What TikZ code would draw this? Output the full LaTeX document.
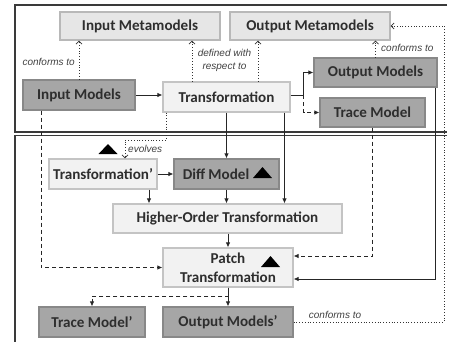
\documentclass[tikz,border=0pt]{standalone}
\usepackage{fontspec}
\setmainfont{Carlito}
\newfontfamily\lblfont{Liberation Sans}
\usetikzlibrary{arrows.meta,calc}
\definecolor{darkbox}{HTML}{A6A6A6}
\definecolor{darkedge}{HTML}{888888}
\definecolor{lightbox}{HTML}{F2F2F2}
\definecolor{lightedge}{HTML}{C4C4C4}
\definecolor{metabox}{HTML}{E6E6E6}
\definecolor{metaedge}{HTML}{B8B8B8}
\definecolor{txt}{HTML}{2E2E2E}
\definecolor{lbl}{HTML}{404040}
\definecolor{frame}{HTML}{3A3A3A}
\tikzset{
  box/.style={draw, line width=1.2pt, inner sep=0pt, text=txt,
    font=\fontsize{15.1}{19}\selectfont\bfseries, align=center},
  darkn/.style={box, fill=darkbox, draw=darkedge},
  lightn/.style={box, fill=lightbox, draw=lightedge},
  metan/.style={box, fill=metabox, draw=metaedge},
  solidarrow/.style={draw=black!85, line width=0.8pt, -{Latex[length=5pt,width=4.5pt]}},
  dasharrow/.style={solidarrow, dash pattern=on 4pt off 3pt},
  dotarrow/.style={draw=black!80, line width=0.8pt, dotted, -{Straight Barb[length=3pt,width=6pt]}},
  lbltext/.style={font=\lblfont\fontsize{10}{13}\selectfont\itshape, text=lbl, inner sep=0pt, align=center},
  framel/.style={draw=frame, line width=1.3pt},
  tri/.style={fill=black}
}
\begin{document}
\begin{tikzpicture}[x=1pt,y=-1pt]
\useasboundingbox (0,0) rectangle (450,341);
% frames
\draw[framel] (447,5) -- (15,5) -- (15,132) -- (447,132);
\draw[framel] (447,135.5) -- (15,135.5) -- (15,345);
% nodes
\node[metan, minimum width=160pt, minimum height=28pt] (inmm) at (140,26) {Input Metamodels};
\node[metan, minimum width=160pt, minimum height=28pt] (outmm) at (310,26) {Output Metamodels};
\node[darkn, minimum width=112pt, minimum height=30pt] (inm) at (79,95) {Input Models};
\node[lightn, minimum width=127pt, minimum height=30pt] (tr) at (226.5,97) {Transformation};
\node[darkn, minimum width=123pt, minimum height=29pt] (outm) at (375.5,72.5) {Output Models};
\node[darkn, minimum width=105pt, minimum height=29pt] (trm) at (372.5,112.5) {Trace Model};
\node[lightn, minimum width=108pt, minimum height=30pt] (trp) at (103,174) {Transformation'};
\node[darkn, minimum width=105pt, minimum height=30pt] (diff) at (226.5,174) {Diff Model\hspace*{21pt}};
\node[lightn, minimum width=229pt, minimum height=29pt] (hot) at (227.5,218.5) {Higher-Order Transformation};
\node[lightn, minimum width=130pt, minimum height=39pt] (patch) at (228,267.5) {Patch\\Transformation};
\node[darkn, minimum width=106pt, minimum height=30pt] (trmp) at (92,322) {Trace Model'};
\node[darkn, minimum width=130pt, minimum height=30pt] (outmp) at (228,322) {Output Models'};
% triangles
\fill[tri] (98.5,154) -- (117.5,154) -- (108,144) -- cycle;
\fill[tri] (253,178) -- (272,178) -- (262.5,167) -- cycle;
\fill[tri] (261,267) -- (280,267) -- (270.5,256) -- cycle;
% dotted conformance / definition links
\draw[dotarrow] (inm.north) -- (inm.north |- inmm.south);
\draw[dotarrow] ([xshift=-34.5pt]tr.north) -- ([xshift=-34.5pt]tr.north |- inmm.south);
\draw[dotarrow] ([xshift=31.5pt]tr.north) -- ([xshift=31.5pt]tr.north |- outmm.south);
\draw[dotarrow] (outm.north) -- (outm.north |- outmm.south);
\coordinate (ev) at (125,140);
\draw[dotarrow] ([xshift=-60.5pt]tr.south) |- (ev) -- ([xshift=22pt]trp.north);
\coordinate (rc) at (444,322);
\draw[dotarrow] (outmp.east) -- (rc) |- (outmm.east);
% labels
\node[lbltext, anchor=east] (l1) at (75,62) {conforms to};
\node[lbltext] (l2) at (224.5,60.5) {defined with\\respect to};
\node[lbltext, anchor=west] (l3) at (381,48) {conforms to};
\node[lbltext, anchor=west] (l4) at (128,149) {evolves};
\node[lbltext] (l5) at (335,315) {conforms to};
% solid flows
\draw[solidarrow] (inm.east) -- (inm.east -| tr.west);
\coordinate (br) at (303.5,95);
\draw[solidarrow] (tr.east |- br) -- (br) |- (outm.west);
\draw[dasharrow] (br) |- (trm.west);
\draw[solidarrow] (tr.south) -- (diff.north);
\draw[solidarrow] ([xshift=58pt]tr.south) -- ([xshift=58pt]tr.south |- hot.north);
\draw[solidarrow] (trp.east) -- (diff.west);
\draw[solidarrow] ([xshift=46pt]trp.south) -- ([xshift=46pt]trp.south |- hot.north);
\draw[solidarrow] (diff.south) -- (diff.south |- hot.north);
\draw[solidarrow] (hot.south -| patch.north) -- (patch.north);
\draw[dasharrow] ([xshift=-38pt]inm.south) |- (patch.west);
\draw[dasharrow] (trm.south) |- ([yshift=11.5pt]patch.east);
\draw[solidarrow] ([xshift=59.5pt]outm.south) |- ([yshift=-11.5pt]patch.east);
\draw[solidarrow] (patch.south) -- (outmp.north);
\coordinate (pd) at (228,296);
\draw[dasharrow] (patch.south) -- (pd) -| (trmp.north);
\end{tikzpicture}
\end{document}
